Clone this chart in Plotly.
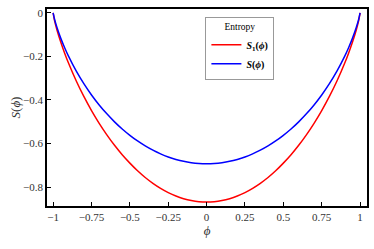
import plotly.graph_objects as go

phi = [-1.0, -0.99, -0.975, -0.95, -0.925, -0.9, -0.85, -0.8, -0.75, -0.7, -0.65, -0.6, -0.55, -0.5,
       -0.45, -0.4, -0.35, -0.3, -0.25, -0.2, -0.15, -0.1, -0.05, 0.0,
       0.05, 0.1, 0.15, 0.2, 0.25, 0.3, 0.35, 0.4, 0.45, 0.5, 0.55, 0.6, 0.65, 0.7, 0.75,
       0.8, 0.85, 0.9, 0.925, 0.95, 0.975, 0.99, 1.0]

s1 = [0.0, -0.0379, -0.0783, -0.1350, -0.1848, -0.2302, -0.3116, -0.3838, -0.4486, -0.5071, -0.5601,
      -0.6081, -0.6514, -0.690, -0.7251, -0.7559, -0.7827, -0.8058, -0.8253, -0.8411, -0.8533, -0.8620,
      -0.8673, -0.869,
      -0.8673, -0.8620, -0.8533, -0.8411, -0.8253, -0.8058, -0.7827, -0.7559, -0.7251, -0.690, -0.6514,
      -0.6081, -0.5601, -0.5071, -0.4486, -0.3838, -0.3116, -0.2302, -0.1848, -0.1350, -0.0783, -0.0379, 0.0]

s = [0.0, -0.0315, -0.0672, -0.1169, -0.1599, -0.1985, -0.2664, -0.3251, -0.3768, -0.4227, -0.4637,
     -0.5004, -0.5332, -0.5623, -0.5882, -0.6109, -0.6306, -0.6474, -0.6616, -0.6730, -0.6819, -0.6881,
     -0.6919, -0.6931,
     -0.6919, -0.6881, -0.6819, -0.6730, -0.6616, -0.6474, -0.6306, -0.6109, -0.5882, -0.5623, -0.5332,
     -0.5004, -0.4637, -0.4227, -0.3768, -0.3251, -0.2664, -0.1985, -0.1599, -0.1169, -0.0672, -0.0315, 0.0]

x_ticks = [-1, -0.75, -0.5, -0.25, 0, 0.25, 0.5, 0.75, 1]
x_labels = ["\u22121", "\u22120.75", "\u22120.5", "\u22120.25", "0", "0.25", "0.5", "0.75", "1"]
y_ticks = [0, -0.2, -0.4, -0.6, -0.8]
y_labels = ["0", "\u22120.2", "\u22120.4", "\u22120.6", "\u22120.8"]

serif = "Liberation Serif"

fig = go.Figure()
fig.add_trace(go.Scatter(x=phi, y=s1, mode="lines", legendgroup="a",
                         line=dict(color="#ff0000", width=1.5, shape="spline", smoothing=0.8),
                         name="<b><i>S</i><sub>1</sub>(<i>\u03d5</i>)</b>"))
fig.add_trace(go.Scatter(x=phi, y=s, mode="lines", legendgroup="b",
                         line=dict(color="#0000ff", width=1.5, shape="spline", smoothing=0.8),
                         name="<b><i>S</i>(<i>\u03d5</i>)</b>"))

axis_common = dict(showline=True, linecolor="black", linewidth=1.5, mirror=True, automargin=False,
                   ticks="inside", ticklen=4, tickcolor="black", showgrid=False, zeroline=False,
                   tickfont=dict(family=serif, size=11, color="#333333"))

fig.update_layout(
    width=374, height=249,
    margin=dict(l=47, r=7, t=9, b=43),
    paper_bgcolor="white", plot_bgcolor="white",
    font=dict(family=serif, size=11, color="#333333"),
    xaxis=dict(range=[-1.04, 1.045], tickvals=x_ticks, ticktext=x_labels,
               title=dict(text="<i>\u03d5</i>", font=dict(family=serif, size=13, color="#333333"), standoff=3),
               **axis_common),
    yaxis=dict(range=[-0.887, 0.018], tickvals=y_ticks, ticktext=y_labels,
               title=dict(text="<i>S</i>(<i>\u03d5</i>)", font=dict(family=serif, size=13, color="#333333"), standoff=0),
               **axis_common),
    legend=dict(x=0.495, y=0.96, xanchor="left", yanchor="top",
                bordercolor="#999999", borderwidth=1, bgcolor="white",
                font=dict(family=serif, size=10, color="black"),
                title=dict(text="Entropy", side="top center", font=dict(family=serif, size=9.5, color="black")),
                itemwidth=30, tracegroupgap=0),
    showlegend=True,
)

fig.write_html("out.html", config={"displayModeBar": False},
               post_script="document.body.style.margin='0';document.body.style.overflow='hidden';")
